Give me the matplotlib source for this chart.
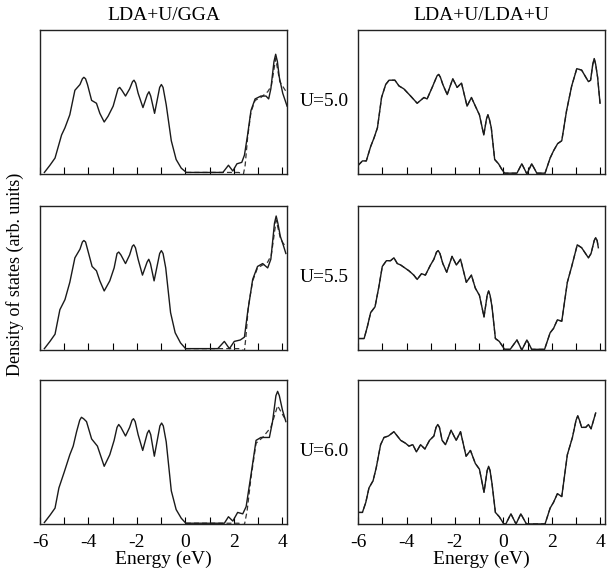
import matplotlib
matplotlib.use('Agg')
import matplotlib.pyplot as plt
from matplotlib.ticker import MultipleLocator

plt.rcParams['font.family'] = ['Liberation Serif', 'DejaVu Serif']
plt.rcParams['axes.unicode_minus'] = False

col_titles = ['LDA+U/GGA', 'LDA+U/LDA+U']
row_labels = ['U=5.0', 'U=5.5', 'U=6.0']

# ---- left column, LDA+U/GGA (solid) ----
e_gga_50 = [-5.82, -5.59, -5.38, -5.11, -4.97, -4.77, -4.56, -4.35, -4.25, -4.19, -4.12, -4.04, -3.87, -3.67,
            -3.53, -3.35, -3.19, -2.98, -2.78, -2.71, -2.62, -2.47, -2.30, -2.18, -2.12, -2.05, -1.95, -1.75,
            -1.57, -1.50, -1.43, -1.27, -1.06, -0.99, -0.92, -0.79, -0.58, -0.38, -0.17, 0.04, 1.55, 1.78,
            1.96, 2.13, 2.33, 2.44, 2.57, 2.71, 2.88, 3.12, 3.33, 3.44, 3.53, 3.66, 3.73, 3.80, 3.88, 4.02, 4.20]
dos_gga_50 = [0.01, 0.06, 0.11, 0.27, 0.32, 0.41, 0.58, 0.62, 0.66, 0.67, 0.66, 0.62, 0.51, 0.49,
              0.42, 0.36, 0.40, 0.47, 0.59, 0.60, 0.58, 0.54, 0.59, 0.64, 0.65, 0.63, 0.56, 0.46,
              0.55, 0.57, 0.54, 0.42, 0.60, 0.62, 0.60, 0.48, 0.23, 0.10, 0.04, 0.01, 0.01, 0.06,
              0.02, 0.07, 0.08, 0.13, 0.27, 0.44, 0.52, 0.54, 0.54, 0.52, 0.59, 0.78, 0.83, 0.78, 0.67, 0.56, 0.47]

e_gga_55 = [-5.82, -5.59, -5.38, -5.18, -4.97, -4.77, -4.56, -4.35, -4.25, -4.19, -4.12, -4.04, -3.85, -3.67,
            -3.53, -3.35, -3.12, -2.94, -2.82, -2.75, -2.66, -2.47, -2.30, -2.19, -2.13, -2.06, -1.95, -1.77,
            -1.58, -1.51, -1.44, -1.29, -1.06, -0.99, -0.92, -0.81, -0.61, -0.42, -0.20, 0.01, 1.34, 1.61,
            1.82, 2.02, 2.27, 2.44, 2.57, 2.78, 2.98, 3.19, 3.40, 3.53, 3.68, 3.75, 3.82, 3.92, 4.04, 4.15]
dos_gga_55 = [0.01, 0.06, 0.11, 0.28, 0.35, 0.47, 0.64, 0.70, 0.75, 0.76, 0.75, 0.70, 0.58, 0.55,
              0.48, 0.41, 0.48, 0.57, 0.67, 0.68, 0.66, 0.60, 0.66, 0.72, 0.73, 0.71, 0.63, 0.52,
              0.61, 0.63, 0.60, 0.48, 0.67, 0.69, 0.67, 0.57, 0.26, 0.12, 0.05, 0.01, 0.01, 0.06,
              0.01, 0.06, 0.07, 0.09, 0.26, 0.49, 0.58, 0.60, 0.57, 0.63, 0.88, 0.93, 0.88, 0.79, 0.73, 0.67]

e_gga_60 = [-5.82, -5.59, -5.38, -5.22, -5.00, -4.77, -4.63, -4.49, -4.36, -4.29, -4.20, -4.08, -3.87, -3.63,
            -3.35, -3.12, -2.94, -2.82, -2.75, -2.66, -2.47, -2.30, -2.20, -2.14, -2.07, -1.95, -1.76,
            -1.57, -1.50, -1.43, -1.28, -1.05, -0.98, -0.91, -0.79, -0.58, -0.38, -0.17, 0.02, 1.61,
            1.78, 1.96, 2.16, 2.37, 2.51, 2.71, 2.92, 3.12, 3.47, 3.60, 3.74, 3.81, 3.88, 4.01, 4.15]
dos_gga_60 = [0.01, 0.06, 0.11, 0.25, 0.36, 0.48, 0.54, 0.64, 0.72, 0.74, 0.73, 0.71, 0.59, 0.54,
              0.40, 0.48, 0.58, 0.67, 0.69, 0.67, 0.61, 0.67, 0.72, 0.73, 0.71, 0.62, 0.51,
              0.63, 0.65, 0.62, 0.47, 0.68, 0.70, 0.68, 0.57, 0.23, 0.10, 0.04, 0.005, 0.005,
              0.05, 0.02, 0.08, 0.07, 0.12, 0.34, 0.58, 0.60, 0.60, 0.71, 0.89, 0.92, 0.89, 0.79, 0.71]

# ---- left column, dashed curve (differs only above the gap) ----
de_gga_50 = [0.04, 1.50, 2.20, 2.40, 2.47, 2.57, 2.71, 2.88, 3.12, 3.40, 3.55, 3.73, 3.90, 4.05, 4.20]
dd_gga_50 = [0.01, 0.01, 0.01, 0.0, 0.06, 0.25, 0.43, 0.51, 0.53, 0.57, 0.61, 0.80, 0.64, 0.60, 0.56]

de_gga_55 = [0.01, 1.40, 2.20, 2.44, 2.50, 2.60, 2.78, 2.98, 3.19, 3.40, 3.55, 3.75, 3.92, 4.04, 4.15]
dd_gga_55 = [0.01, 0.01, 0.01, -0.005, 0.09, 0.30, 0.48, 0.57, 0.59, 0.61, 0.66, 0.90, 0.78, 0.74, 0.72]

de_gga_60 = [0.02, 1.60, 2.20, 2.44, 2.55, 2.71, 2.92, 3.19, 3.53, 3.81, 4.01, 4.15]
dd_gga_60 = [0.005, 0.005, 0.005, -0.005, 0.09, 0.32, 0.56, 0.60, 0.67, 0.82, 0.76, 0.72]

# ---- right column, LDA+U/LDA+U ----
e_lda_50 = [-5.99, -5.82, -5.66, -5.48, -5.34, -5.20, -5.03, -4.86, -4.72, -4.48, -4.31, -4.11,
            -3.83, -3.56, -3.42, -3.28, -3.15, -2.94, -2.74, -2.67, -2.60, -2.50, -2.32, -2.09, -1.91, -1.73,
            -1.50, -1.32, -1.13, -0.99, -0.81, -0.70, -0.64, -0.58, -0.50, -0.36, -0.20, -0.06, 0.05, 0.56,
            0.76, 0.97, 1.17, 1.38, 1.72, 1.93, 2.07, 2.24, 2.41, 2.61, 2.82, 3.03, 3.23, 3.51,
            3.60, 3.69, 3.75, 3.81, 3.89, 3.99]
dos_lda_50 = [0.06, 0.09, 0.09, 0.19, 0.25, 0.32, 0.53, 0.62, 0.65, 0.65, 0.61, 0.59,
              0.54, 0.49, 0.51, 0.53, 0.52, 0.60, 0.68, 0.69, 0.67, 0.62, 0.55, 0.66, 0.60, 0.63,
              0.47, 0.53, 0.46, 0.41, 0.27, 0.38, 0.41, 0.38, 0.32, 0.10, 0.07, 0.03, 0.005, 0.005,
              0.07, 0.0, 0.07, 0.005, 0.005, 0.11, 0.16, 0.21, 0.23, 0.44, 0.61, 0.73, 0.72, 0.64,
              0.65, 0.76, 0.80, 0.76, 0.67, 0.49]

e_lda_55 = [-5.96, -5.75, -5.62, -5.48, -5.30, -5.14, -5.00, -4.83, -4.66, -4.52, -4.38, -4.24,
            -3.90, -3.70, -3.56, -3.38, -3.22, -3.01, -2.87, -2.76, -2.69, -2.62, -2.50, -2.34, -2.12, -1.94,
            -1.77, -1.53, -1.32, -1.16, -0.99, -0.80, -0.67, -0.61, -0.55, -0.47, -0.33, -0.17, 0.05, 0.28,
            0.56, 0.76, 0.97, 1.17, 1.70, 1.93, 2.07, 2.23, 2.41, 2.64, 2.82, 3.05, 3.23, 3.51,
            3.62, 3.75, 3.81, 3.87, 3.92]
dos_lda_55 = [0.08, 0.08, 0.16, 0.26, 0.30, 0.44, 0.58, 0.62, 0.62, 0.64, 0.60, 0.59,
              0.55, 0.52, 0.49, 0.53, 0.52, 0.59, 0.63, 0.68, 0.69, 0.67, 0.60, 0.54, 0.65, 0.59,
              0.63, 0.47, 0.52, 0.43, 0.38, 0.23, 0.38, 0.41, 0.38, 0.30, 0.08, 0.06, 0.005, 0.005,
              0.07, 0.0, 0.07, 0.005, 0.005, 0.12, 0.15, 0.21, 0.20, 0.47, 0.58, 0.73, 0.71, 0.64,
              0.67, 0.76, 0.78, 0.76, 0.71]

e_lda_60 = [-5.99, -5.82, -5.68, -5.55, -5.38, -5.25, -5.07, -4.93, -4.75, -4.52, -4.38, -4.24,
            -4.04, -3.90, -3.74, -3.59, -3.42, -3.24, -3.05, -2.87, -2.78, -2.71, -2.64, -2.53, -2.39, -2.16,
            -1.95, -1.77, -1.54, -1.36, -1.16, -0.99, -0.80, -0.67, -0.61, -0.55, -0.47, -0.33, -0.17, 0.02,
            0.10, 0.31, 0.52, 0.72, 0.95, 1.72, 1.93, 2.07, 2.23, 2.41, 2.64, 2.85, 3.00, 3.07, 3.14, 3.23,
            3.40, 3.51, 3.62, 3.81]
dos_lda_60 = [0.08, 0.08, 0.15, 0.25, 0.30, 0.39, 0.55, 0.60, 0.61, 0.64, 0.61, 0.58,
              0.56, 0.54, 0.55, 0.50, 0.55, 0.52, 0.58, 0.61, 0.67, 0.69, 0.67, 0.58, 0.55, 0.65,
              0.58, 0.64, 0.47, 0.51, 0.42, 0.38, 0.22, 0.37, 0.40, 0.37, 0.28, 0.08, 0.05, 0.0,
              0.0, 0.07, 0.0, 0.07, 0.0, 0.0, 0.11, 0.15, 0.21, 0.19, 0.48, 0.60, 0.72, 0.75, 0.72, 0.67,
              0.67, 0.69, 0.66, 0.77]

panels = [
    [(e_gga_50, dos_gga_50, de_gga_50, dd_gga_50), (e_lda_50, dos_lda_50, e_lda_50, dos_lda_50)],
    [(e_gga_55, dos_gga_55, de_gga_55, dd_gga_55), (e_lda_55, dos_lda_55, e_lda_55, dos_lda_55)],
    [(e_gga_60, dos_gga_60, de_gga_60, dd_gga_60), (e_lda_60, dos_lda_60, e_lda_60, dos_lda_60)],
]

fig = plt.figure(figsize=(6.1, 5.72), dpi=100)

lefts = [0.0656, 0.587]
bottoms = [0.696, 0.388, 0.084]
w, h = 0.405, 0.252

for r in range(3):
    for c in range(2):
        ax = fig.add_axes([lefts[c], bottoms[r], w, h])
        e, d, de, dd = panels[r][c]
        ax.plot(de, dd, color='#333333', lw=0.9, ls=(0, (4, 2.5)))
        ax.plot(e, d, color='#1a1a1a', lw=1.0, solid_joinstyle='round')
        ax.set_xlim(-6, 4.2)
        ax.set_ylim(0, 1)
        ax.set_yticks([])
        ax.xaxis.set_major_locator(MultipleLocator(2))
        ax.xaxis.set_minor_locator(MultipleLocator(1))
        ax.tick_params(axis='x', which='both', direction='in', length=5, width=0.8,
                       top=False, labelsize=14, pad=7)
        for s in ax.spines.values():
            s.set_linewidth(1.0)
            s.set_color('#222222')
        if r < 2:
            ax.set_xticklabels([])
        else:
            ax.set_xlabel('Energy (eV)', fontsize=14, labelpad=0)
        if r == 0:
            ax.set_title(col_titles[c], fontsize=14, pad=7)

for r in range(3):
    fig.text(0.531, bottoms[r] + h / 2, row_labels[r], fontsize=14, ha='center', va='center')

fig.text(0.025, 0.52, 'Density of states (arb. units)', fontsize=13, rotation=90,
         ha='center', va='center')

fig.savefig('out.png', dpi=100)
